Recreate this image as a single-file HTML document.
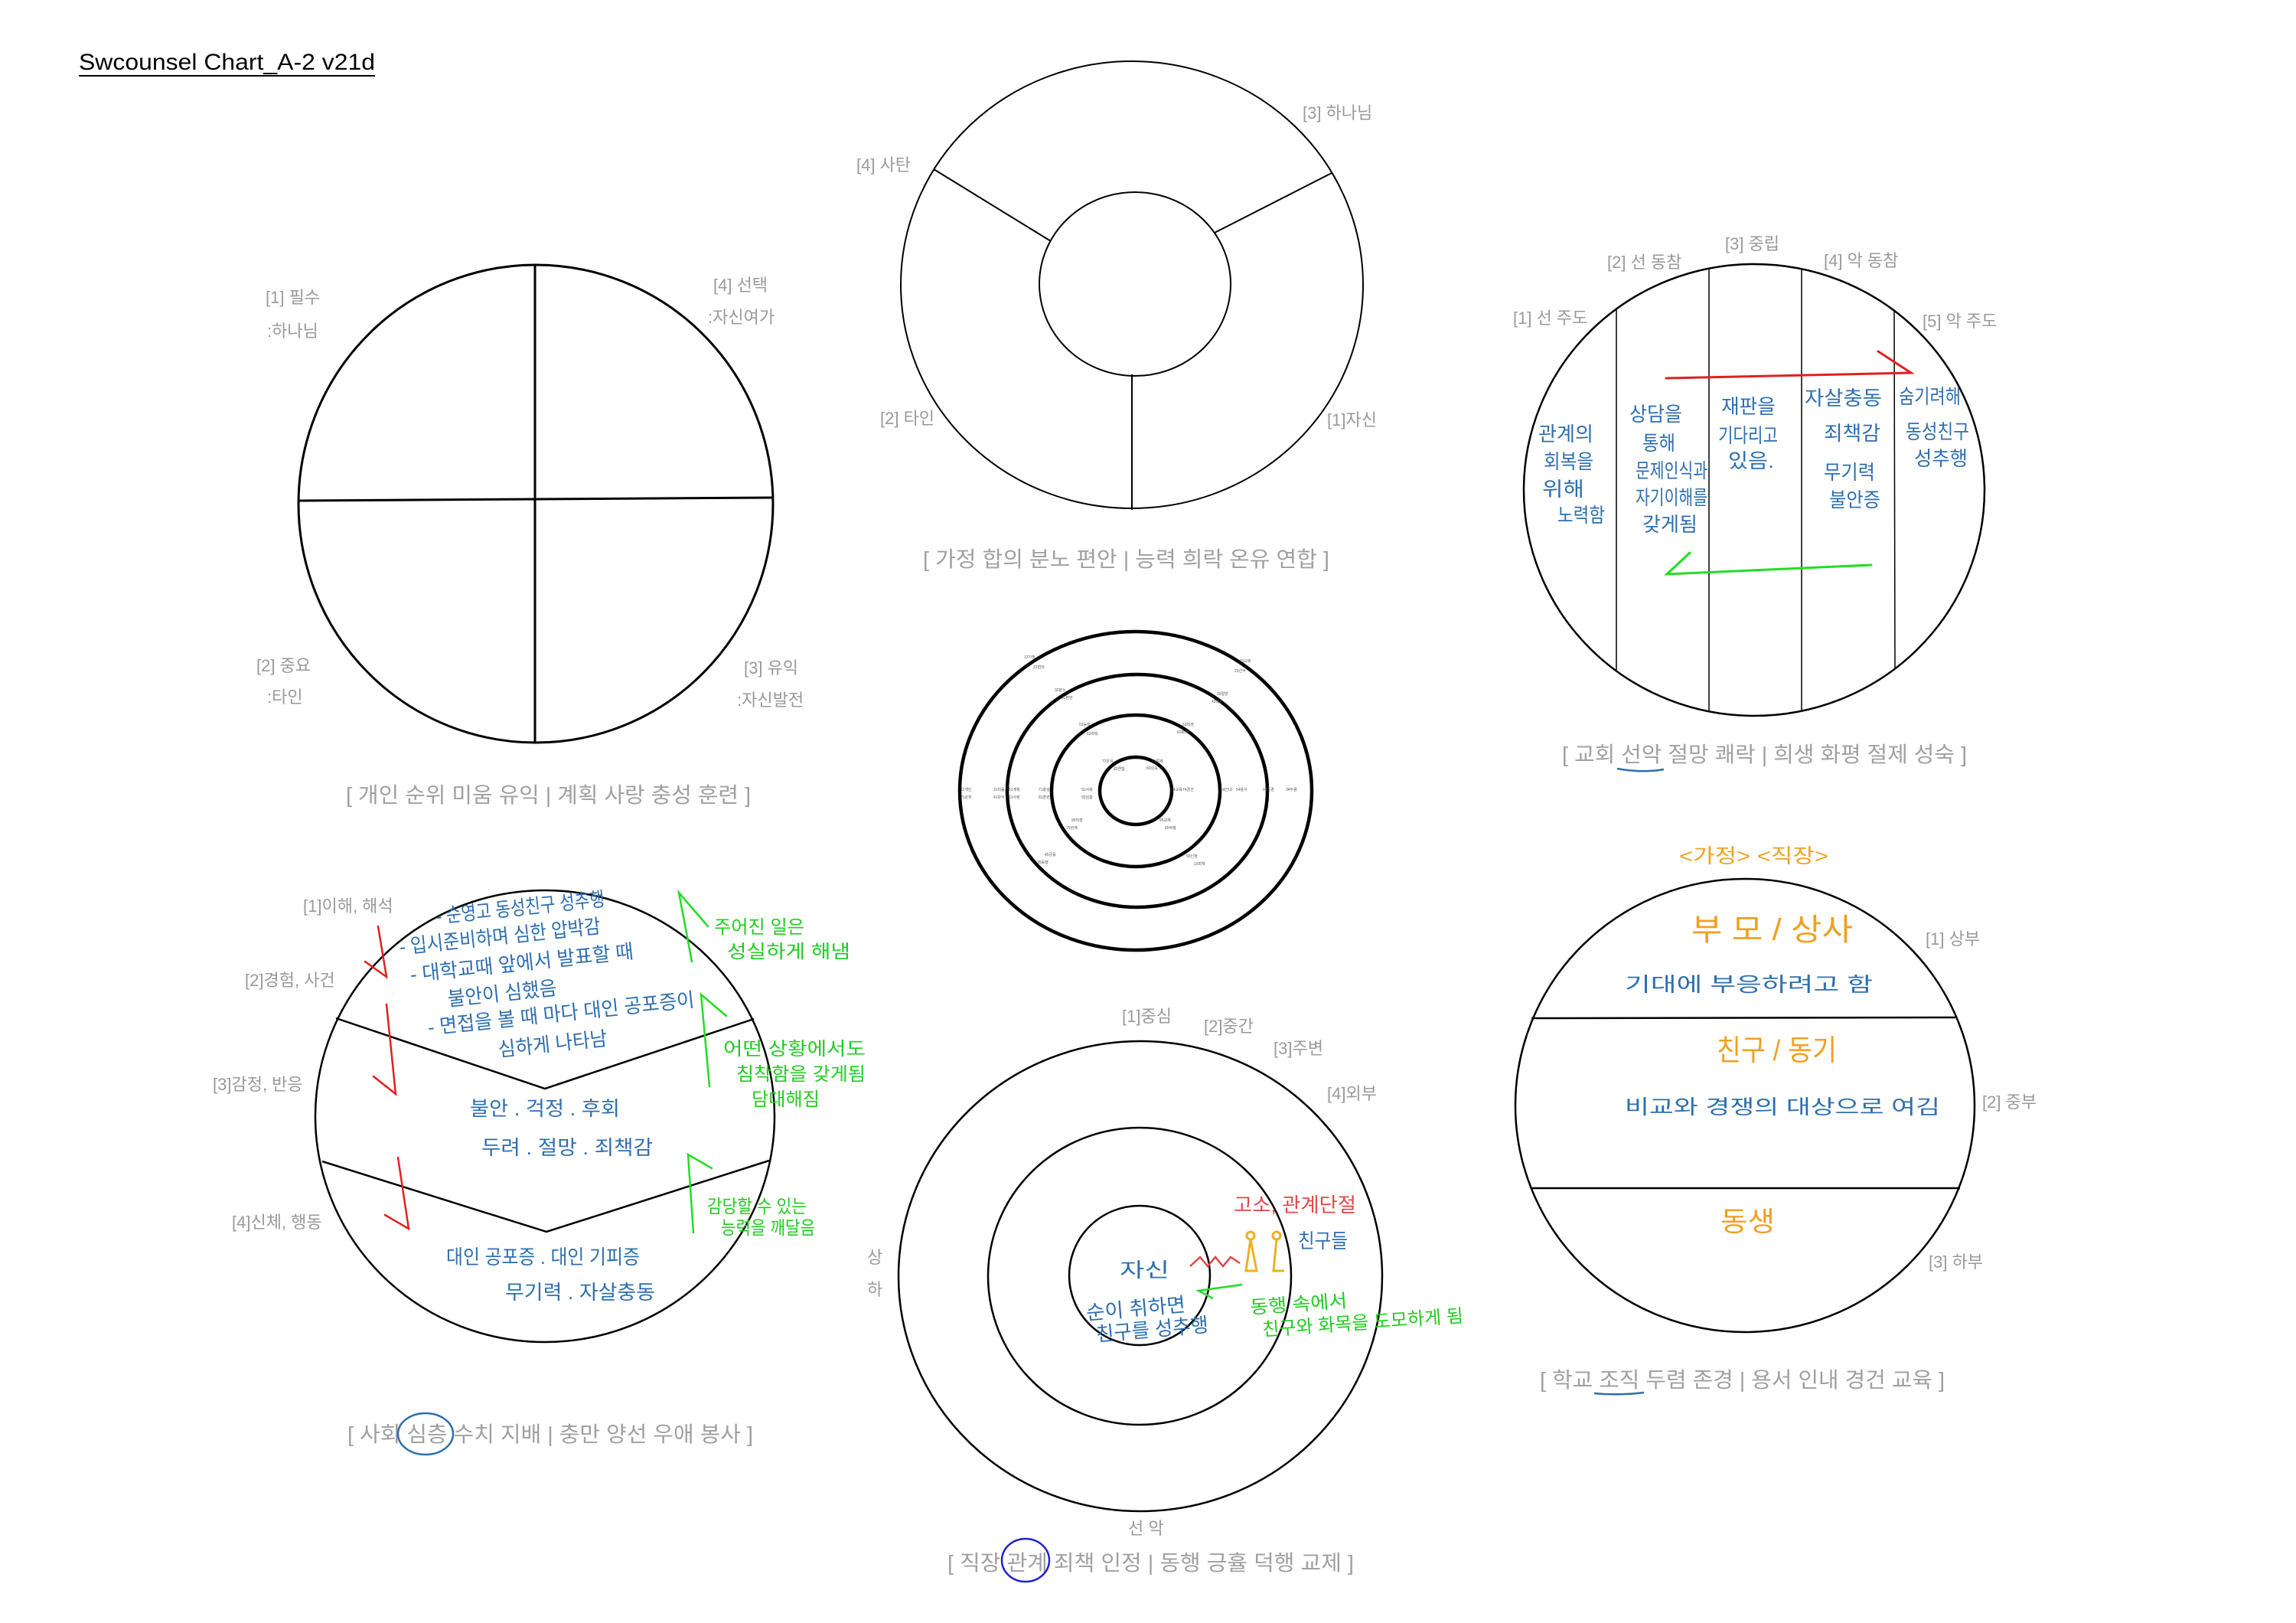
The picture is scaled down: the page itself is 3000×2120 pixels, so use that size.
<!DOCTYPE html>
<html><head><meta charset="utf-8"><style>
html,body{margin:0;padding:0;background:#fff;}
svg{display:block;}
.lb{font-family:"Liberation Sans","Noto Sans CJK KR",sans-serif;font-size:22px;fill:#9a9a9a;}
.cap{font-family:"Liberation Sans","Noto Sans CJK KR",sans-serif;font-size:28px;fill:#a0a0a0;}
.hb{font-family:"Liberation Sans","Noto Sans CJK KR",sans-serif;fill:#2e6fb0;font-size:26px;}
.hg{font-family:"Liberation Sans","Noto Sans CJK KR",sans-serif;fill:#22cc22;font-size:24px;}
.ho{font-family:"Liberation Sans","Noto Sans CJK KR",sans-serif;fill:#f0a020;}
.tiny{font-family:"Liberation Sans","Noto Sans CJK KR",sans-serif;font-size:5px;fill:#555;}
</style></head><body>
<svg width="3000" height="2120" viewBox="0 0 3000 2120" xmlns="http://www.w3.org/2000/svg">
<rect width="3000" height="2120" fill="#fff"/>
<text x="103" y="91" font-family="Liberation Sans,Noto Sans CJK KR,sans-serif" font-size="30" fill="#000" textLength="387" lengthAdjust="spacingAndGlyphs">Swcounsel Chart_A-2 v21d</text>
<line x1="103" y1="99" x2="490" y2="99" stroke="#000" stroke-width="2"/>

<!-- Chart 1 -->
<g fill="none" stroke="#000" stroke-width="3">
<ellipse cx="700" cy="658" rx="310" ry="312"/>
<line x1="390" y1="654" x2="1010" y2="650"/>
<line x1="699" y1="346" x2="699" y2="970"/>
</g>
<text class="lb" x="347" y="396">[1] 필수</text>
<text class="lb" x="349" y="440">:하나님</text>
<text class="lb" x="932" y="380">[4] 선택</text>
<text class="lb" x="925" y="422">:자신여가</text>
<text class="lb" x="335" y="877">[2] 중요</text>
<text class="lb" x="349" y="918">:타인</text>
<text class="lb" x="972" y="880">[3] 유익</text>
<text class="lb" x="963" y="922">:자신발전</text>
<text class="cap" x="452" y="1048" textLength="529" lengthAdjust="spacingAndGlyphs">[ 개인 순위 미움 유익 | 계획 사랑 충성 훈련 ]</text>

<!-- Chart 2 -->
<g fill="none" stroke="#000" stroke-width="2">
<ellipse cx="1479" cy="372" rx="302" ry="292"/>
<ellipse cx="1483" cy="371" rx="125" ry="120"/>
<line x1="1220" y1="221" x2="1373" y2="315"/>
<line x1="1740" y1="226" x2="1587" y2="304"/>
<line x1="1479" y1="489" x2="1479" y2="666"/>
</g>
<text class="lb" x="1702" y="155">[3] 하나님</text>
<text class="lb" x="1119" y="223">[4] 사탄</text>
<text class="lb" x="1150" y="554">[2] 타인</text>
<text class="lb" x="1734" y="556">[1]자신</text>
<text class="cap" x="1206" y="740" textLength="531" lengthAdjust="spacingAndGlyphs">[ 가정 합의 분노 편안 | 능력 희락 온유 연합 ]</text>

<!-- Chart 3 concentric -->
<g fill="none" stroke="#000" stroke-width="4.5">
<ellipse cx="1484" cy="1033" rx="230" ry="208"/>
<ellipse cx="1486" cy="1033" rx="170" ry="152"/>
<ellipse cx="1484" cy="1033" rx="110" ry="99"/>
<ellipse cx="1484" cy="1033" rx="47" ry="44"/>
</g>
<g class="tiny">
<text x="1338" y="860">12가정</text><text x="1350" y="873">22협의</text>
<text x="1620" y="865">13교회</text><text x="1613" y="878">23선악</text>
<text x="1378" y="903">32분노</text><text x="1387" y="913">42편안</text>
<text x="1590" y="908">33절망</text><text x="1583" y="918">43쾌락</text>
<text x="1410" y="948">52능력</text><text x="1420" y="960">62희락</text>
<text x="1545" y="948">53희생</text><text x="1538" y="958">63화평</text>
<text x="1440" y="996">72온유</text><text x="1455" y="1006">82연합</text>
<text x="1505" y="996">73절제</text><text x="1498" y="1005">83성숙</text>
<text x="1255" y="1033">11개인</text><text x="1255" y="1043">21순위</text>
<text x="1298" y="1033">31미움</text><text x="1298" y="1043">41유익</text>
<text x="1318" y="1033">51계획</text><text x="1318" y="1043">61사랑</text>
<text x="1357" y="1033">71충성</text><text x="1357" y="1043">81훈련</text>
<text x="1413" y="1033">91사회</text><text x="1413" y="1043">92심층</text>
<text x="1530" y="1033">94교육</text><text x="1545" y="1033">74경건</text>
<text x="1595" y="1033">64인내</text><text x="1615" y="1033">54용서</text>
<text x="1650" y="1033">44존경</text><text x="1680" y="1033">34두렴</text>
<text x="1400" y="1073">95직장</text><text x="1393" y="1083">75관계</text>
<text x="1515" y="1073">85교제</text><text x="1522" y="1083">65덕행</text>
<text x="1365" y="1118">45긍휼</text><text x="1355" y="1128">35동행</text>
<text x="1550" y="1120">55인정</text><text x="1560" y="1130">15죄책</text>
</g>

<!-- Chart 4 -->
<g fill="none" stroke="#000">
<ellipse cx="2292" cy="640" rx="301" ry="295" stroke-width="2.5"/>
<line x1="2112" y1="403" x2="2112" y2="875" stroke-width="1.5"/>
<line x1="2233" y1="350" x2="2233" y2="929" stroke-width="1.5"/>
<line x1="2354" y1="352" x2="2354" y2="929" stroke-width="1.5"/>
<line x1="2475" y1="407" x2="2476" y2="872" stroke-width="1.5"/>
</g>
<text class="lb" x="1977" y="423">[1] 선 주도</text>
<text class="lb" x="2100" y="350">[2] 선 동참</text>
<text class="lb" x="2254" y="326">[3] 중립</text>
<text class="lb" x="2383" y="348">[4] 악 동참</text>
<text class="lb" x="2512" y="427">[5] 악 주도</text>
<g fill="none" stroke-width="3" stroke-linecap="round">
<polyline points="2177,494 2497,487 2454,459" stroke="#e02020"/>
<polyline points="2445,738 2178,750 2208,722" stroke="#22dd22"/>
</g>
<g class="hb" lengthAdjust="spacingAndGlyphs">
<text x="2010" y="576" textLength="72" lengthAdjust="spacingAndGlyphs">관계의</text>
<text x="2017" y="612" textLength="65" lengthAdjust="spacingAndGlyphs">회복을</text>
<text x="2015" y="648" textLength="55" lengthAdjust="spacingAndGlyphs">위해</text>
<text x="2035" y="682" textLength="62" lengthAdjust="spacingAndGlyphs">노력함</text>
<text x="2129" y="550" textLength="69" lengthAdjust="spacingAndGlyphs">상담을</text>
<text x="2146" y="588" textLength="43" lengthAdjust="spacingAndGlyphs">통해</text>
<text x="2137" y="624" textLength="94" lengthAdjust="spacingAndGlyphs">문제인식과</text>
<text x="2137" y="659" textLength="94" lengthAdjust="spacingAndGlyphs">자기이해를</text>
<text x="2146" y="694" textLength="72" lengthAdjust="spacingAndGlyphs">갖게됨</text>
<text x="2249" y="540" textLength="71" lengthAdjust="spacingAndGlyphs">재판을</text>
<text x="2245" y="578" textLength="78" lengthAdjust="spacingAndGlyphs">기다리고</text>
<text x="2258" y="611" textLength="60" lengthAdjust="spacingAndGlyphs">있음.</text>
<text x="2358" y="529" textLength="101" lengthAdjust="spacingAndGlyphs">자살충동</text>
<text x="2383" y="575" textLength="74" lengthAdjust="spacingAndGlyphs">죄책감</text>
<text x="2383" y="626" textLength="67" lengthAdjust="spacingAndGlyphs">무기력</text>
<text x="2390" y="662" textLength="67" lengthAdjust="spacingAndGlyphs">불안증</text>
<text x="2481" y="527" textLength="81" lengthAdjust="spacingAndGlyphs">숨기려해</text>
<text x="2490" y="573" textLength="83" lengthAdjust="spacingAndGlyphs">동성친구</text>
<text x="2501" y="608" textLength="70" lengthAdjust="spacingAndGlyphs">성추행</text>
</g>
<text class="cap" x="2041" y="995" textLength="529" lengthAdjust="spacingAndGlyphs">[ 교회 선악 절망 쾌락 | 희생 화평 절제 성숙 ]</text>
<path d="M2113,1004 Q2145,1010 2174,1005" stroke="#2e6fb0" stroke-width="2.5" fill="none"/>

<!-- Chart 5 -->
<g fill="none" stroke="#000" stroke-width="2.5">
<ellipse cx="712" cy="1458" rx="300" ry="295"/>
<polyline points="439,1330 712,1422 985,1331"/>
<polyline points="421,1517 714,1609 1005,1516"/>
</g>
<text class="lb" x="396" y="1191">[1]이해, 해석</text>
<text class="lb" x="320" y="1288">[2]경험, 사건</text>
<text class="lb" x="278" y="1424">[3]감정, 반응</text>
<text class="lb" x="303" y="1604">[4]신체, 행동</text>
<g fill="none" stroke-width="2.5" stroke-linecap="round">
<polyline points="494,1210 505,1276 477,1256" stroke="#e02020"/>
<polyline points="505,1312 517,1429 488,1406" stroke="#e02020"/>
<polyline points="520,1512 534,1605 503,1587" stroke="#e02020"/>
<polyline points="904,1256 887,1166 925,1210" stroke="#22dd22"/>
<polyline points="927,1419 916,1299 949,1327" stroke="#22dd22"/>
<polyline points="906,1610 899,1508 930,1526" stroke="#22dd22"/>
</g>
<g class="hb">
<text x="571" y="1206" transform="rotate(-6 571 1206)" textLength="221" lengthAdjust="spacingAndGlyphs">- 순영고 동성친구 성추행</text>
<text x="523" y="1246" transform="rotate(-6 523 1246)" textLength="264" lengthAdjust="spacingAndGlyphs">- 입시준비하며 심한 압박감</text>
<text x="537" y="1282" transform="rotate(-6 537 1282)" textLength="293" lengthAdjust="spacingAndGlyphs">- 대학교때 앞에서 발표할 때</text>
<text x="586" y="1314" transform="rotate(-6 586 1314)" textLength="143" lengthAdjust="spacingAndGlyphs">불안이 심했음</text>
<text x="560" y="1351" transform="rotate(-6 560 1351)" textLength="350" lengthAdjust="spacingAndGlyphs">- 면접을 볼 때 마다 대인 공포증이</text>
<text x="652" y="1380" transform="rotate(-6 652 1380)" textLength="143" lengthAdjust="spacingAndGlyphs">심하게 나타남</text>
<text x="614" y="1457" textLength="196" lengthAdjust="spacingAndGlyphs">불안 . 걱정 . 후회</text>
<text x="629" y="1508" textLength="224" lengthAdjust="spacingAndGlyphs">두려 . 절망 . 죄책감</text>
<text x="583" y="1651" textLength="253" lengthAdjust="spacingAndGlyphs">대인 공포증 . 대인 기피증</text>
<text x="660" y="1697" textLength="196" lengthAdjust="spacingAndGlyphs">무기력 . 자살충동</text>
</g>
<g class="hg">
<text x="933" y="1219" textLength="118" lengthAdjust="spacingAndGlyphs">주어진 일은</text>
<text x="950" y="1251" textLength="161" lengthAdjust="spacingAndGlyphs">성실하게 해냄</text>
<text x="945" y="1378" textLength="186" lengthAdjust="spacingAndGlyphs">어떤 상황에서도</text>
<text x="962" y="1411" textLength="169" lengthAdjust="spacingAndGlyphs">침착함을 갖게됨</text>
<text x="982" y="1444" textLength="89" lengthAdjust="spacingAndGlyphs">담대해짐</text>
<text x="924" y="1584" textLength="130" lengthAdjust="spacingAndGlyphs">감당할 수 있는</text>
<text x="942" y="1612" textLength="123" lengthAdjust="spacingAndGlyphs">능력을 깨달음</text>
</g>
<text class="cap" x="454" y="1883" textLength="530" lengthAdjust="spacingAndGlyphs">[ 사회 심층 수치 지배 | 충만 양선 우애 봉사 ]</text>
<ellipse cx="556" cy="1873" rx="36" ry="27" fill="none" stroke="#2e6fb0" stroke-width="2.5"/>

<!-- Chart 6 -->
<g fill="none" stroke="#000" stroke-width="2.5">
<ellipse cx="1490" cy="1667" rx="316" ry="307"/>
<ellipse cx="1489" cy="1667" rx="198" ry="194"/>
<ellipse cx="1489" cy="1666" rx="92" ry="91"/>
</g>
<text class="lb" x="1466" y="1335">[1]중심</text>
<text class="lb" x="1573" y="1348">[2]중간</text>
<text class="lb" x="1664" y="1377">[3]주변</text>
<text class="lb" x="1734" y="1436">[4]외부</text>
<text class="lb" x="1133" y="1650">상</text>
<text class="lb" x="1133" y="1692">하</text>
<text class="lb" x="1474" y="2004">선 악</text>
<text class="hb" x="1463" y="1668" font-size="36" textLength="65" lengthAdjust="spacingAndGlyphs">자신</text>
<text class="hb" x="1420" y="1724" transform="rotate(-5 1420 1724)" textLength="130" lengthAdjust="spacingAndGlyphs">순이 취하면</text>
<text class="hb" x="1433" y="1752" transform="rotate(-5 1433 1752)" textLength="147" lengthAdjust="spacingAndGlyphs">친구를 성추행</text>
<text x="1612" y="1583" font-family="Liberation Sans,Noto Sans CJK KR,sans-serif" font-size="26" fill="#e04848" textLength="160" lengthAdjust="spacingAndGlyphs">고소, 관계단절</text>
<polyline points="1555,1654 1568,1642 1578,1654 1588,1642 1598,1654 1608,1642 1620,1650" fill="none" stroke="#e04848" stroke-width="2.5"/>
<g fill="none" stroke="#f0b020" stroke-width="3">
<circle cx="1634" cy="1614" r="5"/><path d="M1634,1619 L1628,1660 L1642,1660 Z"/>
<circle cx="1668" cy="1614" r="5"/><path d="M1668,1619 L1664,1660 L1678,1660"/>
</g>
<text class="hb" x="1696" y="1630" font-size="30" textLength="65" lengthAdjust="spacingAndGlyphs">친구들</text>
<polyline points="1623,1678 1566,1686 1585,1696" fill="none" stroke="#22dd22" stroke-width="2.5"/>
<text class="hg" x="1634" y="1716" transform="rotate(-4 1634 1716)" textLength="127" lengthAdjust="spacingAndGlyphs">동행 속에서</text>
<text class="hg" x="1650" y="1745" transform="rotate(-4 1650 1745)" textLength="263" lengthAdjust="spacingAndGlyphs">친구와 화목을 도모하게 됨</text>
<text class="cap" x="1238" y="2051" textLength="531" lengthAdjust="spacingAndGlyphs">[ 직장 관계 죄책 인정 | 동행 긍휼 덕행 교제 ]</text>
<ellipse cx="1340" cy="2038" rx="31" ry="28" fill="none" stroke="#2222cc" stroke-width="2.5"/>

<!-- Chart 7 -->
<g fill="none" stroke="#000" stroke-width="2.5">
<ellipse cx="2280" cy="1444" rx="300" ry="296"/>
<line x1="2001" y1="1330" x2="2555" y2="1329"/>
<line x1="2000" y1="1552" x2="2561" y2="1552"/>
</g>
<text class="lb" x="2516" y="1234">[1] 상부</text>
<text class="lb" x="2590" y="1447">[2] 중부</text>
<text class="lb" x="2520" y="1656">[3] 하부</text>
<text class="ho" x="2194" y="1127" font-size="26" textLength="195" lengthAdjust="spacingAndGlyphs">&lt;가정&gt; &lt;직장&gt;</text>
<text class="ho" x="2210" y="1228" font-size="40" textLength="211" lengthAdjust="spacingAndGlyphs">부 모 / 상사</text>
<text class="hb" x="2123" y="1295" font-size="34" textLength="324" lengthAdjust="spacingAndGlyphs">기대에 부응하려고 함</text>
<text class="ho" x="2243" y="1385" font-size="38" textLength="157" lengthAdjust="spacingAndGlyphs">친구 / 동기</text>
<text class="hb" x="2123" y="1455" font-size="34" textLength="412" lengthAdjust="spacingAndGlyphs">비교와 경쟁의 대상으로 여김</text>
<text class="ho" x="2248" y="1608" font-size="36" textLength="71" lengthAdjust="spacingAndGlyphs">동생</text>
<text class="cap" x="2012" y="1812" textLength="529" lengthAdjust="spacingAndGlyphs">[ 학교 조직 두렴 존경 | 용서 인내 경건 교육 ]</text>
<path d="M2083,1820 Q2115,1823 2148,1819" stroke="#2e6fb0" stroke-width="2.5" fill="none"/>
</svg>
</body></html>
